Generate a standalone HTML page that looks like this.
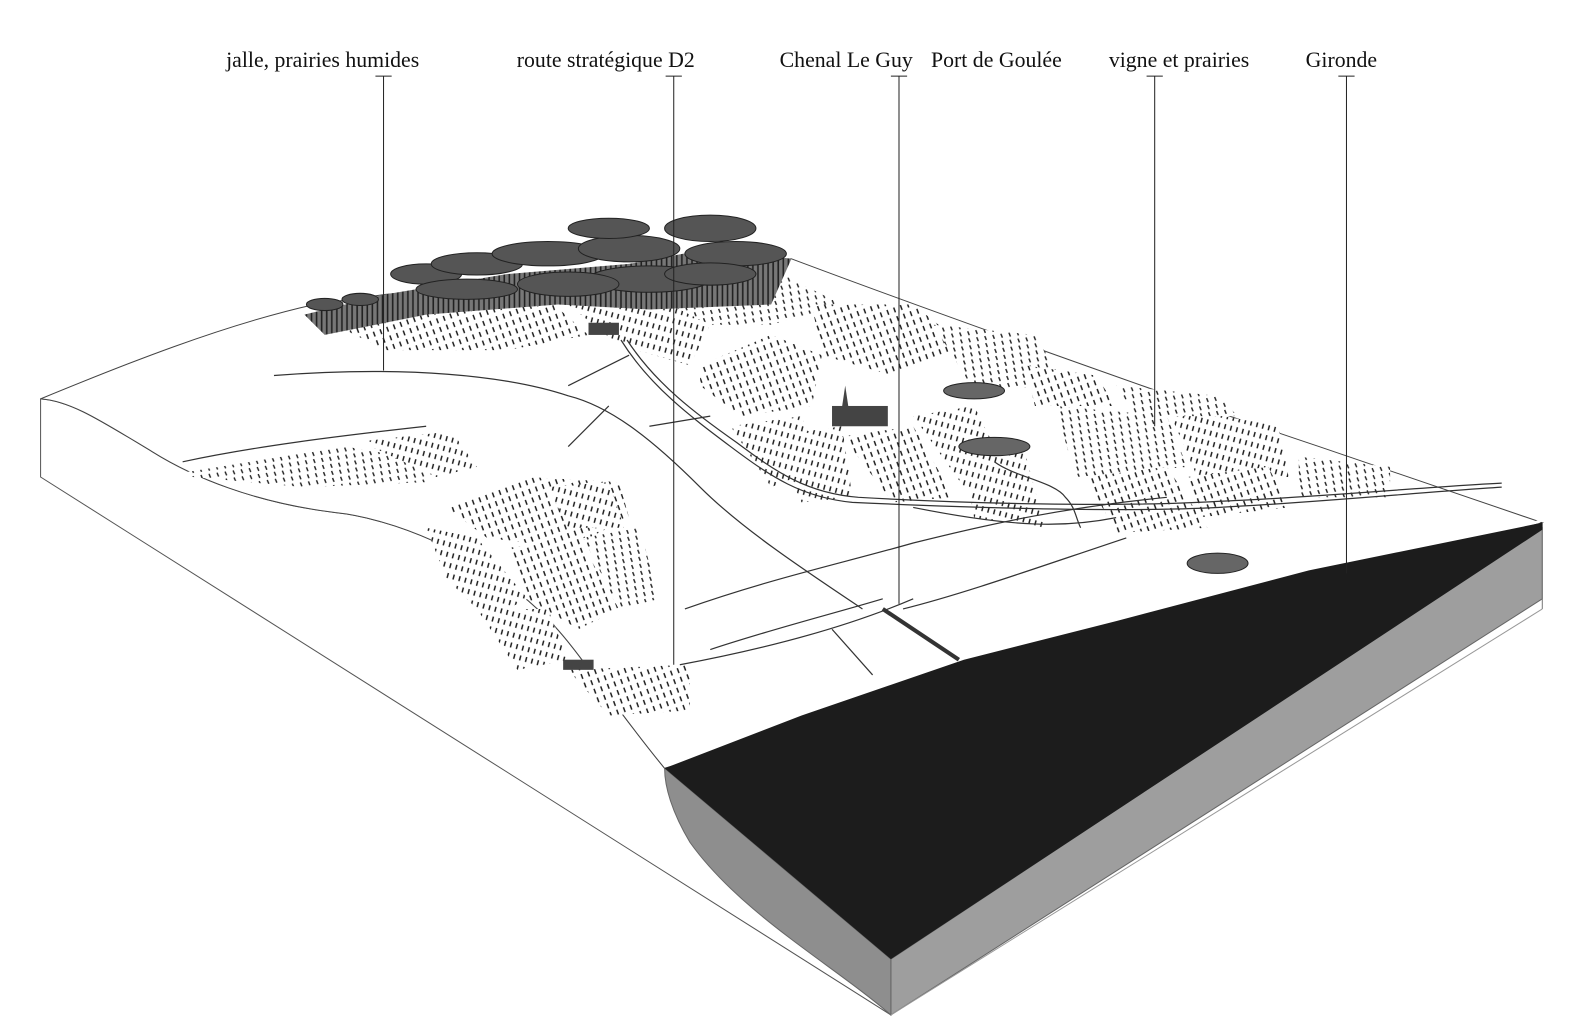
<!DOCTYPE html>
<html><head><meta charset="utf-8"><style>
html,body{margin:0;padding:0;background:#fff;}
svg{display:block;}
text{font-family:"Liberation Serif",serif;font-size:21.5px;fill:#111;}
</style></head><body>
<svg width="1591" height="1021" viewBox="0 0 1568 1006" preserveAspectRatio="none" xmlns="http://www.w3.org/2000/svg">
<defs>
<pattern id="vine" width="7" height="9" patternUnits="userSpaceOnUse" patternTransform="rotate(-20)">
<rect width="7" height="9" fill="#fff"/><line x1="3" y1="1" x2="3" y2="6" stroke="#222" stroke-width="1.5"/>
</pattern>
<pattern id="vine2" width="6" height="10" patternUnits="userSpaceOnUse" patternTransform="rotate(15)">
<rect width="6" height="10" fill="#fff"/><line x1="3" y1="1" x2="3" y2="6" stroke="#222" stroke-width="1.5"/>
</pattern>
<pattern id="vine3" width="8" height="7" patternUnits="userSpaceOnUse" patternTransform="rotate(-8)">
<rect width="8" height="7" fill="#fff"/><line x1="3" y1="1" x2="4" y2="5" stroke="#222" stroke-width="1.4"/>
</pattern>
<pattern id="trunk" width="5" height="30" patternUnits="userSpaceOnUse">
<rect width="5" height="30" fill="#777"/><line x1="2" y1="0" x2="2" y2="30" stroke="#222" stroke-width="1.6"/>
</pattern>
</defs>

<!-- left side face -->
<path d="M40,393 L40,470 L878,1000 L878,945 L655,757 C600,690 570,640 540,610 C470,540 380,510 330,505 C250,495 190,470 150,445 C100,415 70,395 40,393Z" fill="#fff" stroke="#555" stroke-width="1"/>
<!-- top surface -->
<path d="M40,393 C120,360 220,320 310,300 L380,290 L780,255 C900,300 1150,390 1300,440 L1520,515 L655,757 C600,690 570,640 540,610 C470,540 380,510 330,505 C250,495 190,470 150,445 C100,415 70,395 40,393Z" fill="#fff" stroke="#444" stroke-width="1"/>
<!-- right gray face -->
<path d="M878,945 L1520,520 L1520,590 L878,1000Z" fill="#9e9e9e" stroke="#666"/>
<path d="M655,757 L878,945 L878,1000 C820,950 730,900 680,830 C662,800 655,775 655,757Z" fill="#8e8e8e" stroke="#666"/>
<line x1="878" y1="1000" x2="1520" y2="600" stroke="#999" stroke-width="1"/>
<line x1="1520" y1="515" x2="1520" y2="600" stroke="#777" stroke-width="1"/>
<!-- water -->
<path d="M655,757 L790,705 L950,650 L1100,612 L1290,562 L1520,515 L1520,522 L878,945Z" fill="#1c1c1c"/>
<path d="M655,755 L790,703 L950,648 L1100,610 L1290,560 L1520,513" stroke="#fff" stroke-width="2" fill="none"/>

<!-- vineyards -->
<g stroke="none">
<path d="M185,465 L340,440 L430,455 L420,475 L300,480 L190,470Z" fill="url(#vine3)"/>
<path d="M355,435 L445,425 L470,460 L430,470Z" fill="url(#vine2)"/>
<path d="M440,500 L520,470 L610,475 L620,510 L560,540 L480,530Z" fill="url(#vine)"/>
<path d="M420,520 L470,530 L520,590 L480,610 L440,570Z" fill="url(#vine2)"/>
<path d="M500,540 L570,530 L610,600 L570,620 L520,590Z" fill="url(#vine)"/>
<path d="M575,530 L630,520 L650,590 L610,600Z" fill="url(#vine3)"/>
<path d="M540,480 L600,475 L615,520 L560,520Z" fill="url(#vine2)"/>
<path d="M560,660 L680,655 L680,700 L600,705Z" fill="url(#vine)"/>
<path d="M470,600 L540,600 L560,650 L510,660Z" fill="url(#vine2)"/>
<path d="M330,320 L420,300 L540,295 L580,330 L500,345 L380,345Z" fill="url(#vine)"/>
<path d="M560,300 L640,290 L700,320 L680,360 L610,340Z" fill="url(#vine2)"/>
<path d="M640,290 L770,270 L830,300 L760,320 L700,320Z" fill="url(#vine3)"/>
<path d="M690,360 L760,330 L810,350 L800,400 L730,410 L690,380Z" fill="url(#vine)"/>
<path d="M720,420 L790,410 L810,460 L760,480Z" fill="url(#vine2)"/>
<path d="M800,300 L900,300 L950,340 L880,370 L810,350Z" fill="url(#vine)"/>
<path d="M920,320 L1020,330 L1050,380 L960,385Z" fill="url(#vine3)"/>
<path d="M760,430 L830,420 L840,490 L790,495Z" fill="url(#vine2)"/>
<path d="M830,430 L900,420 L940,490 L880,495Z" fill="url(#vine)"/>
<path d="M900,410 L960,400 L990,460 L950,480Z" fill="url(#vine2)"/>
<path d="M950,450 L1010,445 L1030,520 L960,510Z" fill="url(#vine2)"/>
<path d="M1040,400 L1150,410 L1170,460 L1060,470Z" fill="url(#vine3)"/>
<path d="M1070,470 L1150,460 L1190,520 L1100,525Z" fill="url(#vine)"/>
<path d="M1150,400 L1260,420 L1270,470 L1180,470Z" fill="url(#vine2)"/>
<path d="M1170,470 L1250,460 L1270,500 L1180,510Z" fill="url(#vine)"/>
<path d="M1280,450 L1370,460 L1370,490 L1280,490Z" fill="url(#vine3)"/>
<path d="M1010,360 L1080,370 L1100,400 L1020,400Z" fill="url(#vine)"/>
<path d="M1100,380 L1200,390 L1220,410 L1120,410Z" fill="url(#vine3)"/>
</g>

<!-- forest -->
<g>
<path d="M300,310 L380,290 L500,270 L620,260 L700,245 L780,255 L760,300 L640,305 L550,300 L420,310 L320,330Z" fill="url(#trunk)"/>
<g fill="#555" stroke="#222" stroke-width="1">
<ellipse cx="320" cy="300" rx="18" ry="6"/><ellipse cx="355" cy="295" rx="18" ry="6"/>
<ellipse cx="420" cy="270" rx="35" ry="10"/><ellipse cx="470" cy="260" rx="45" ry="11"/>
<ellipse cx="540" cy="250" rx="55" ry="12"/><ellipse cx="620" cy="245" rx="50" ry="13"/>
<ellipse cx="700" cy="225" rx="45" ry="13"/><ellipse cx="725" cy="250" rx="50" ry="12"/>
<ellipse cx="640" cy="275" rx="60" ry="13"/><ellipse cx="560" cy="280" rx="50" ry="12"/>
<ellipse cx="460" cy="285" rx="50" ry="10"/><ellipse cx="700" cy="270" rx="45" ry="11"/>
<ellipse cx="600" cy="225" rx="40" ry="10"/>
</g>
</g>

<!-- roads & hedges -->
<g fill="none" stroke="#333" stroke-width="1.2">
<path d="M612,335 C640,380 680,410 720,440 C760,470 790,490 840,495 C950,500 1100,505 1200,500 C1300,495 1400,485 1480,480"/>
<path d="M618,335 C646,378 686,408 726,436 C766,466 796,486 846,490 C950,496 1100,500 1200,494 C1300,490 1400,480 1480,476"/>
<path d="M270,370 C400,360 500,370 560,390 C600,400 640,430 690,480 C730,520 790,560 850,600"/>
<path d="M560,380 L620,350"/><path d="M600,400 L560,440"/><path d="M640,420 L700,410"/>
<path d="M675,600 C760,570 830,555 900,535 C980,515 1050,500 1150,490"/>
<path d="M700,640 C760,620 820,605 870,590"/>
<path d="M670,655 C750,640 830,620 900,590"/>
<path d="M890,600 C950,585 1020,560 1110,530"/>
<path d="M820,620 L860,665"/>
<path d="M870,600 L945,650" stroke-width="4"/>
<path d="M980,455 C1000,470 1040,475 1050,490 C1060,500 1060,510 1065,520"/>
<path d="M900,500 C1000,520 1050,520 1100,510"/>
<path d="M180,455 C250,440 330,430 420,420"/>
</g>
<!-- village -->
<g fill="#444"><rect x="820" y="400" width="55" height="20"/><path d="M830,400 L833,380 L836,400Z"/><rect x="580" y="318" width="30" height="12"/><rect x="555" y="650" width="30" height="10"/></g>
<g fill="#666" stroke="#222"><ellipse cx="960" cy="385" rx="30" ry="8"/><ellipse cx="980" cy="440" rx="35" ry="9"/><ellipse cx="1200" cy="555" rx="30" ry="10"/></g>

<!-- labels -->
<g stroke="#222" stroke-width="1">
<line x1="378" y1="75" x2="378" y2="365"/><line x1="370" y1="75" x2="386" y2="75"/>
<line x1="664" y1="75" x2="664" y2="655"/><line x1="656" y1="75" x2="672" y2="75"/>
<line x1="886" y1="75" x2="886" y2="595"/><line x1="878" y1="75" x2="894" y2="75"/>
<line x1="1138" y1="75" x2="1138" y2="420"/><line x1="1130" y1="75" x2="1146" y2="75"/>
<line x1="1327" y1="75" x2="1327" y2="565"/><line x1="1319" y1="75" x2="1335" y2="75"/>
</g>
<text x="318" y="66" text-anchor="middle">jalle, prairies humides</text>
<text x="597" y="66" text-anchor="middle">route stratégique D2</text>
<text x="834" y="66" text-anchor="middle">Chenal Le Guy</text>
<text x="982" y="66" text-anchor="middle">Port de Goulée</text>
<text x="1162" y="66" text-anchor="middle">vigne et prairies</text>
<text x="1322" y="66" text-anchor="middle">Gironde</text>
</svg>
</body></html>
